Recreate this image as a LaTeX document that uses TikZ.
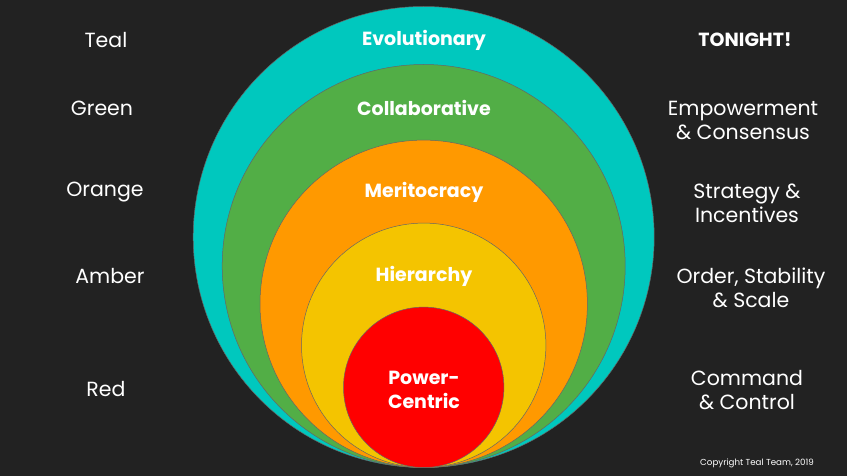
\documentclass[tikz,border=0pt]{standalone}
\usepackage{fontspec}
\setmainfont{Poppins}
\usepackage{tikz}

\begin{document}
\begin{tikzpicture}[x=1pt,y=-1pt,
  ring/.style={draw=black!60,line width=0.5pt},
  lvl/.style={text=white,font=\fontsize{20.5}{24}\selectfont},
  inner/.style={text=white,font=\fontsize{19}{24}\selectfont\bfseries,align=center},
  trait/.style={text=white,font=\fontsize{20.5}{24}\selectfont,align=center}]
\definecolor{cbg}{RGB}{34,34,34}
\definecolor{cteal}{RGB}{0,200,190}
\definecolor{cgreen}{RGB}{82,174,70}
\definecolor{corange}{RGB}{255,153,0}
\definecolor{cyellow}{RGB}{244,196,0}
\definecolor{cred}{RGB}{255,0,0}
\fill[cbg] (0,0) rectangle (847,476);
% nested circles, all touching at the bottom
\filldraw[ring,fill=cteal] (423.7,237.0) circle (230.5);
\filldraw[ring,fill=cgreen] (423.7,266.0) circle (201.5);
\filldraw[ring,fill=corange] (423.7,303.8) circle (163.7);
\filldraw[ring,fill=cyellow] (423.7,345.3) circle (122.2);
\filldraw[ring,fill=cred] (423.7,387.3) circle (80.2);
\node[inner] (evo) at (424,40) {Evolutionary};
\node[inner] (col) at (424,108) {Collaborative};
\node[inner] (mer) at (424,192) {Meritocracy};
\node[inner] (hie) at (424,276) {Hierarchy};
\node[inner] (pow) at (424,390) {Power-\\Centric};
% colour names
\node[lvl] (teal) at (106,40) {Teal};
\node[lvl] (green) at (102,108) {Green};
\node[lvl] (orange) at (105,192) {Orange};
\node[lvl] (amber) at (110,276) {Amber};
\node[lvl] (red) at (106,389) {Red};
% what each stage brings
\node[trait,font=\fontsize{19}{24}\selectfont\bfseries] (tonight) at (745,40) {TONIGHT!};
\node[trait] (emp) at (743,120) {Empowerment\\\& Consensus};
\node[trait] (str) at (747,203.5) {Strategy \&\\Incentives};
\node[trait] (ord) at (751,288) {Order, Stability\\\& Scale};
\node[trait] (cmd) at (747,390) {Command\\\& Control};
\node[text=white,font=\fontsize{8.7}{10}\selectfont] (copy) at (757,463) {Copyright Teal Team, 2019};
\end{tikzpicture}
\end{document}
